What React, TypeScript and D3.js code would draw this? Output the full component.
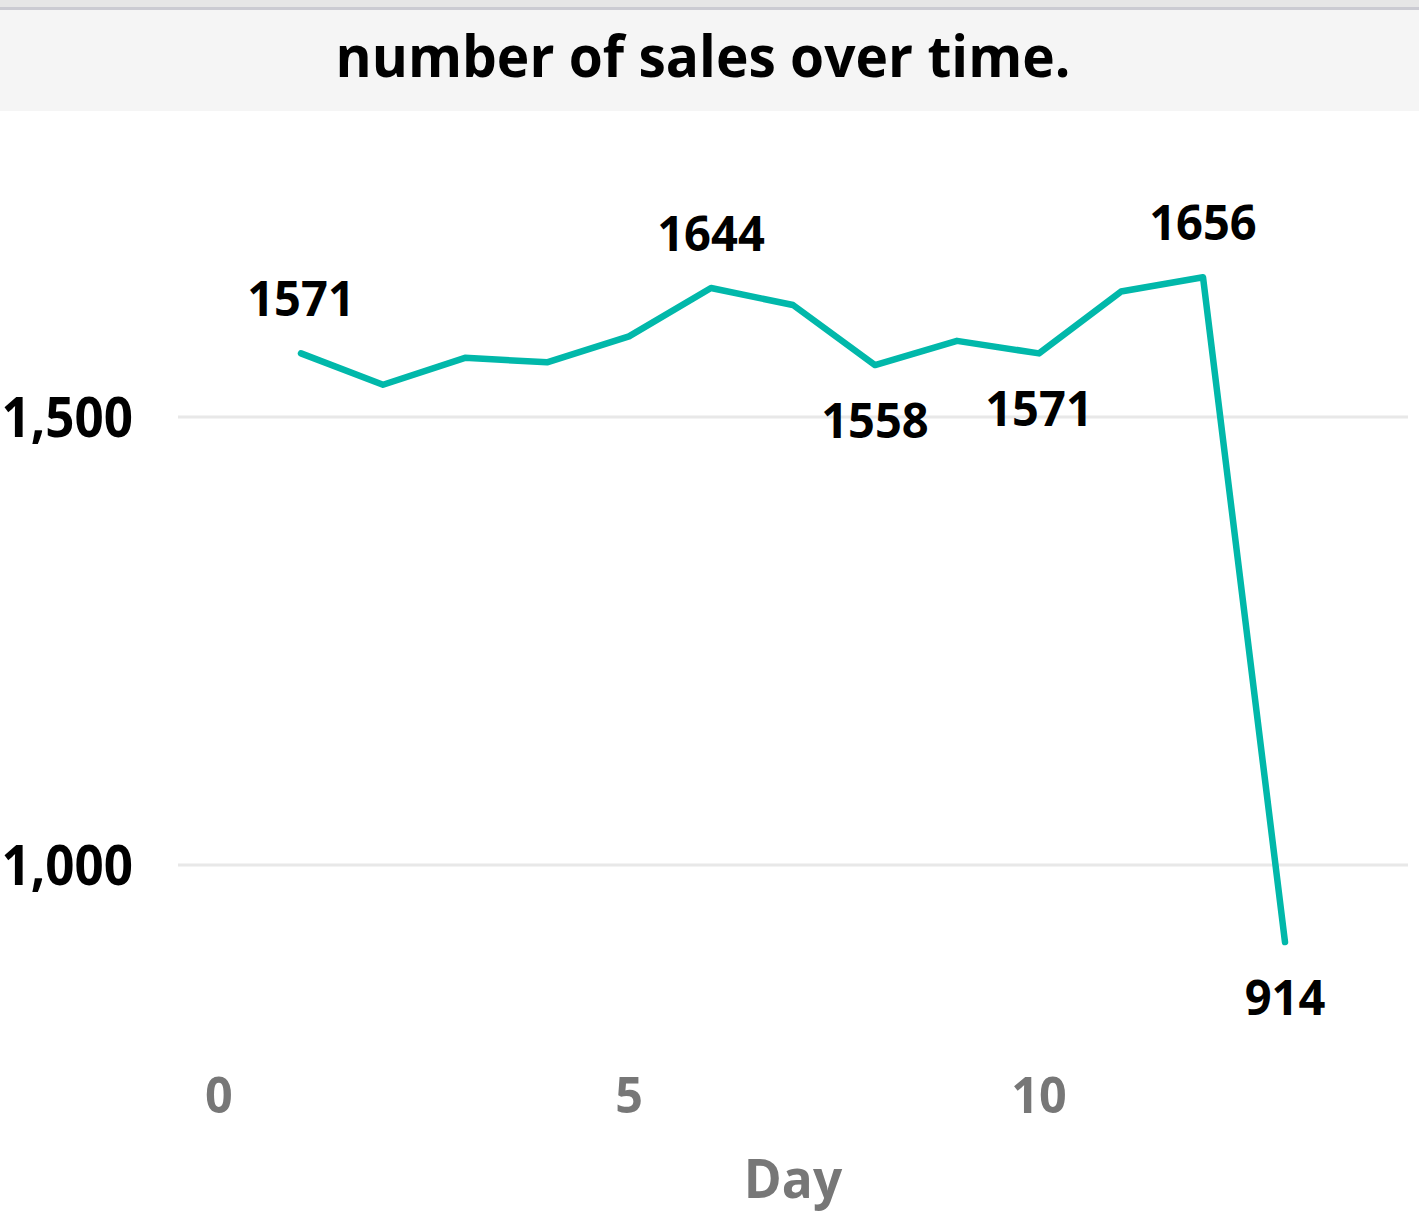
import React from "react";
import * as d3 from "d3";

const days = [1, 2, 3, 4, 5, 6, 7, 8, 9, 10, 11, 12, 13];
const sales = [1571, 1536, 1566, 1561, 1590, 1644, 1625, 1558, 1585, 1571, 1640, 1656, 914];
const labelledDays = [1, 6, 8, 10, 12, 13];
const labelAbove = [true, true, false, false, true, false];
const xTicks = [0, 5, 10];
const yTicks = [1000, 1500];
const title = "number of sales over time.";
const xTitle = "Day";

const W = 1419;
const H = 1220;
const FONT = "'Open Sans', 'Noto Sans', sans-serif";

function T(props: {
  x: number;
  y: number;
  sx?: number;
  anchor?: string;
  size: number;
  fill: string;
  dy?: string;
  children: React.ReactNode;
}) {
  const sx = props.sx ?? 1;
  return (
    <text
      x={props.x}
      y={props.y}
      dy={props.dy}
      textAnchor={props.anchor ?? "middle"}
      fontSize={props.size}
      fontWeight={700}
      fill={props.fill}
      transform={`translate(${props.x},0) scale(${sx},1) translate(${-props.x},0)`}
    >
      {props.children}
    </text>
  );
}

export default function App() {
  const x = d3.scaleLinear().domain([-0.5, 14.5]).range([178, 1408]);
  const y = d3.scaleLinear().domain([800, 1800]).range([417 + 700 * 0.896, 417 - 300 * 0.896]);
  const pts = days.map((d, i) => ({ d, v: sales[i] }));
  const line = d3
    .line<{ d: number; v: number }>()
    .x((p) => x(p.d))
    .y((p) => y(p.v));
  const fmt = d3.format(",");

  return (
    <svg
      width={W}
      height={H}
      style={{ position: "absolute", left: 0, top: 0, display: "block" }}
      fontFamily={FONT}
    >
      <rect x={0} y={0} width={W} height={H} fill="#ffffff" />
      <rect x={0} y={0} width={W} height={8} fill="#e6e6e6" />
      <rect x={0} y={7} width={W} height={3} fill="#cbcbd2" />
      <rect x={0} y={10} width={W} height={101} fill="#f5f5f5" />
      <T x={703} y={77} size={58} sx={0.95} fill="#000">
        {title}
      </T>

      {yTicks.map((t) => (
        <g key={t}>
          <line x1={178} x2={1408} y1={y(t)} y2={y(t)} stroke="#e8e8e8" strokeWidth={3} />
          <T x={133} y={y(t)} dy="0.37em" anchor="end" size={55} sx={0.93} fill="#000">
            {fmt(t)}
          </T>
        </g>
      ))}

      {xTicks.map((t) => (
        <T key={t} x={x(t)} y={1113} size={50} sx={0.97} fill="#777777">
          {t}
        </T>
      ))}
      <T x={793} y={1198} size={53} sx={0.97} fill="#777777">
        {xTitle}
      </T>

      <path
        d={line(pts) || ""}
        fill="none"
        stroke="#01B8AA"
        strokeWidth={6.5}
        strokeLinejoin="round"
        strokeLinecap="round"
      />

      {labelledDays.map((d, i) => {
        const v = sales[days.indexOf(d)];
        const ly = labelAbove[i] ? y(v) - 37 : y(v) + 73;
        return (
          <T key={d} x={x(d)} y={ly} size={48} sx={0.98} fill="#000">
            {v}
          </T>
        );
      })}
    </svg>
  );
}
